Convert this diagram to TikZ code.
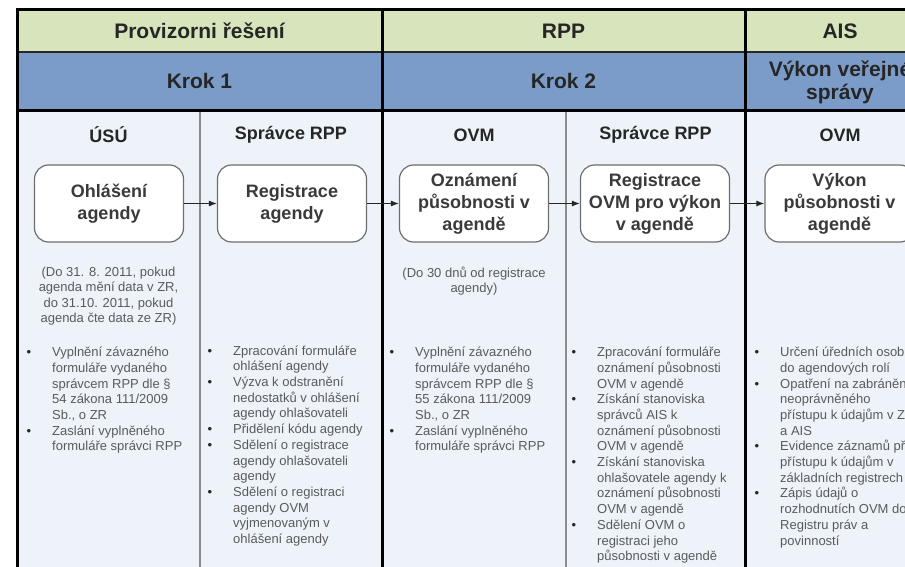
\documentclass[tikz,border=0pt]{standalone}
\usepackage{fontspec}
\setmainfont{Liberation Sans}
\usetikzlibrary{arrows.meta}
\definecolor{hdrgreen}{HTML}{D7E4BC}
\definecolor{hdrblue}{HTML}{7B9CC9}
\definecolor{bodybg}{HTML}{EEF3FA}
\definecolor{bodytxt}{HTML}{5A5A5A}
\definecolor{boxtxt}{HTML}{3A3A3A}
\definecolor{hdrtxt}{HTML}{262626}
\definecolor{boxline}{HTML}{6E6E6E}
\definecolor{thinline}{HTML}{8C8C8C}
\newcommand{\bul}{\llap{\textcolor{black!85}{\textbullet}\hspace{21pt}}}
\begin{document}
\begin{tikzpicture}[x=1pt,y=-1pt,
  toptitle/.style={font=\fontsize{21}{23}\selectfont\bfseries, text=hdrtxt, align=center, inner sep=0pt},
  colhead/.style={font=\fontsize{18}{20}\selectfont\bfseries, text=hdrtxt, inner sep=0pt},
  stepbox/.style={draw=boxline, line width=1.2pt, fill=white, rounded corners=14pt,
     minimum width=149pt, minimum height=77pt, inner sep=0pt, align=center,
     font=\fontsize{18}{22}\selectfont\bfseries, text=boxtxt},
  notetext/.style={font=\fontsize{13}{15.5}\selectfont, text=bodytxt, align=center, inner sep=0pt, anchor=north},
  bullettext/.style={font=\fontsize{13}{15.7}\selectfont, text=bodytxt, align=left, inner sep=0pt, anchor=north west},
  flow/.style={-{Latex[length=8pt,width=6pt]}, line width=1pt, draw=black!85},
  thick black/.style={line width=3pt, draw=black},
  thin divider/.style={line width=1.5pt, draw=thinline}
]
\useasboundingbox (0,0) rectangle (905,567);
\clip (0,0) rectangle (905,567);
\fill[white] (0,0) rectangle (905,567);
% bands
\fill[hdrgreen] (17,10) rectangle (930,52);
\fill[hdrblue] (17,52) rectangle (930,111);
\fill[bodybg] (17,111) rectangle (930,580);
% lines
\draw[line width=2pt, draw=black!85] (17,52) -- (930,52);
\draw[thick black] (15.5,10) -- (930,10);
\draw[thick black] (17,111) -- (930,111);
\draw[thick black] (17,8.5) -- (17,580);
\draw[thick black] (382,10) -- (382,580);
\draw[thick black] (745,10) -- (745,580);
\draw[thin divider] (200,112.5) -- (200,580);
\draw[thin divider] (566,112.5) -- (566,580);
% top titles
\node[toptitle] (t1) at (199.5,31) {Provizorni řešení};
\node[toptitle] (t2) at (563.5,31) {RPP};
\node[toptitle] (t3) at (840,31) {AIS};
\node[toptitle] (k1) at (199.5,81) {Krok 1};
\node[toptitle] (k2) at (563.5,81) {Krok 2};
\node[toptitle] (k3) at (840,82) {Výkon veřejné\\správy};
% column headers
\node[colhead] (h1) at (108.5,135) {ÚSÚ};
\node[colhead] (h2) at (291,135) {Správce RPP};
\node[colhead] (h3) at (474,135) {OVM};
\node[colhead] (h4) at (655.5,135) {Správce RPP};
\node[colhead] (h5) at (840,135) {OVM};
% boxes
\node[stepbox] (b1) at (109,203.5) {Ohlášení\\agendy};
\node[stepbox] (b2) at (292,203.5) {Registrace\\agendy};
\node[stepbox] (b3) at (474,203.5) {Oznámení\\působnosti v\\agendě};
\node[stepbox] (b4) at (655,203.5) {Registrace\\OVM pro výkon\\v agendě};
\node[stepbox] (b5) at (839.5,203.5) {Výkon\\působnosti v\\agendě};
\draw[flow] (b1.east) -- (b2.west);
\draw[flow] (b2.east) -- (b3.west);
\draw[flow] (b3.east) -- (b4.west);
\draw[flow] (b4.east) -- (b5.west);
% notes
\node[notetext] (n1) at (108.5,265) {\strut(Do 31. 8. 2011, pokud\\agenda mění data v ZR,\\do 31.10. 2011, pokud\\agenda čte data ze ZR)};
\node[notetext] (n3) at (474,266) {\strut(Do 30 dnů od registrace\\agendy)};
% bullet lists
\node[bullettext] (l1) at (52,345.5) {\strut\bul Vyplnění závazného\\formuláře vydaného\\správcem RPP dle §\\54 zákona 111/2009\\Sb., o ZR\\\bul Zaslání vyplněného\\formuláře správci RPP};
\node[bullettext] (l2) at (233,344) {\strut\bul Zpracování formuláře\\ohlášení agendy\\\bul Výzva k odstranění\\nedostatků v ohlášení\\agendy ohlašovateli\\\bul Přidělení kódu agendy\\\bul Sdělení o registrace\\agendy ohlašovateli\\agendy\\\bul Sdělení o registraci\\agendy OVM\\vyjmenovaným v\\ohlášení agendy};
\node[bullettext] (l3) at (415,345.5) {\strut\bul Vyplnění závazného\\formuláře vydaného\\správcem RPP dle §\\55 zákona 111/2009\\Sb., o ZR\\\bul Zaslání vyplněného\\formuláře správci RPP};
\node[bullettext] (l4) at (597,345.5) {\strut\bul Zpracování formuláře\\oznámení působnosti\\OVM v agendě\\\bul Získání stanoviska\\správců AIS k\\oznámení působnosti\\OVM v agendě\\\bul Získání stanoviska\\ohlašovatele agendy k\\oznámení působnosti\\OVM v agendě\\\bul Sdělení OVM o\\registraci jeho\\působnosti v agendě};
\node[bullettext] (l5) at (780,345.5) {\strut\bul Určení úředních osob\\do agendových rolí\\\bul Opatření na zabránění\\neoprávněného\\přístupu k údajům v ZR\\a AIS\\\bul Evidence záznamů při\\přístupu k údajům v\\základních registrech\\\bul Zápis údajů o\\rozhodnutích OVM do\\Registru práv a\\povinností};
\end{tikzpicture}
\end{document}
